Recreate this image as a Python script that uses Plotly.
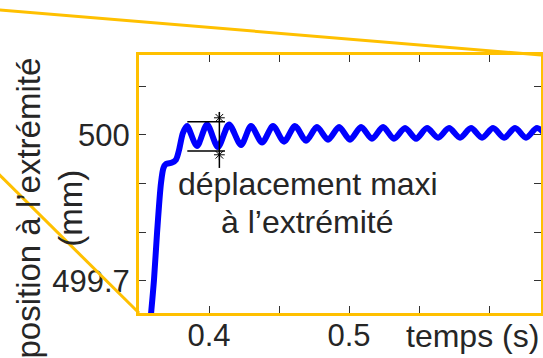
import plotly.graph_objects as go

# ---- data ----
time_s = [0.3582, 0.3607, 0.3629, 0.3657, 0.3675, 0.3693, 0.3736, 0.3764, 0.3786, 0.3814,
          0.3843, 0.3914, 0.3986, 0.4064, 0.4143, 0.4229, 0.4300, 0.4379, 0.4457, 0.4536,
          0.4614, 0.4693, 0.4771, 0.4850, 0.4929, 0.5007, 0.5086, 0.5164, 0.5243, 0.5321,
          0.5400, 0.5479, 0.5557, 0.5636, 0.5714, 0.5793, 0.5871, 0.5950, 0.6029, 0.6107,
          0.6186, 0.6264, 0.6343, 0.6420]
position_mm = [499.620, 499.702, 499.799, 499.901, 499.932, 499.940, 499.943, 499.949, 499.969, 500.004,
               500.018, 499.977, 500.021, 499.975, 500.021, 499.979, 500.018, 499.984, 500.018, 499.986,
               500.018, 499.988, 500.016, 499.990, 500.016, 499.990, 500.016, 499.992, 500.016, 499.992,
               500.014, 499.992, 500.014, 499.994, 500.014, 499.994, 500.014, 499.994, 500.014, 499.994,
               500.014, 499.994, 500.014, 499.994]

# max displacement marker
mark_x = 0.4074
mark_top, mark_bottom = 500.047, 499.932
mark_max, mark_min = 500.027, 499.967
mark_left, mark_right = 0.3845, 0.4114
star_y = [500.035, 499.959]

x_range = [0.35, 0.6371]
y_range = [499.634, 500.164]
x_ticks = [0.4, 0.45, 0.5, 0.55, 0.6]
x_ticktext = ["0.4", "", "0.5", "", ""]
y_ticks = [499.7, 499.8, 499.9, 500.0, 500.1]
y_ticktext = ["499.7", "", "", "500", ""]

FONT = "Liberation Sans, Arial, sans-serif"
TXT = "#262626"
GOLD = "#FFC000"

fig = go.Figure()
fig.add_trace(go.Scatter(x=time_s, y=position_mm, mode="lines",
                         line=dict(color="#0000FF", width=6, shape="spline", smoothing=0.8),
                         hoverinfo="skip"))
# marker lines
fig.add_trace(go.Scatter(x=[mark_x, mark_x], y=[mark_top, mark_bottom], mode="lines",
                         line=dict(color="black", width=1.5)))
fig.add_trace(go.Scatter(x=[mark_left, mark_right], y=[mark_max, mark_max], mode="lines",
                         line=dict(color="black", width=1.5)))
fig.add_trace(go.Scatter(x=[mark_left, mark_right], y=[mark_min, mark_min], mode="lines",
                         line=dict(color="black", width=1.5)))
fig.add_trace(go.Scatter(x=[mark_x, mark_x], y=star_y, mode="markers",
                         marker=dict(symbol="asterisk-open", size=9, color="black",
                                     line=dict(color="black", width=1))))

axis_common = dict(showgrid=False, zeroline=False, showline=True, linecolor=GOLD, linewidth=3,
                   mirror="ticks", ticks="inside", ticklen=7, tickwidth=1.3, tickcolor="#333333",
                   automargin=False,
                   tickfont=dict(family=FONT, size=31, color=TXT))

fig.update_xaxes(range=x_range, tickvals=x_ticks, ticktext=x_ticktext,
                 ticklabelstandoff=-7, **axis_common)
fig.update_yaxes(range=y_range, tickvals=y_ticks, ticktext=y_ticktext, **axis_common)

# zoom connector lines (decoration)
fig.add_shape(type="line", xref="paper", yref="paper", x0=-0.36, y0=1.176, x1=1.0, y1=1.0,
              line=dict(color=GOLD, width=3))
fig.add_shape(type="line", xref="paper", yref="paper", x0=-0.36, y0=0.555, x1=0.0, y1=0.0,
              line=dict(color=GOLD, width=3))

fig.add_annotation(text="position à l’extrémité<br>(mm)", xref="paper", yref="paper",
                   x=-0.2225, y=0.407, textangle=-90, showarrow=False,
                   font=dict(family=FONT, size=33, color=TXT), xanchor="center", yanchor="middle")
fig.add_annotation(text="temps (s)", xref="paper", yref="paper", x=1.0, y=-0.089,
                   xanchor="right", yanchor="middle", showarrow=False,
                   font=dict(family=FONT, size=32, color=TXT))
fig.add_annotation(text="déplacement maxi", xref="paper", yref="paper", x=0.42, y=0.5,
                   xanchor="center", yanchor="middle", showarrow=False,
                   font=dict(family=FONT, size=32, color=TXT))
fig.add_annotation(text="à l’extrémité", xref="paper", yref="paper", x=0.42, y=0.353,
                   xanchor="center", yanchor="middle", showarrow=False,
                   font=dict(family=FONT, size=32, color=TXT))

fig.update_layout(width=543, height=358, margin=dict(l=139, r=2, t=55, b=45, autoexpand=False),
                  paper_bgcolor="white", plot_bgcolor="white", showlegend=False)

fig.write_html("out.html", config={"displayModeBar": False},
               post_script="document.body.style.margin='0';document.body.style.overflow='hidden';")
